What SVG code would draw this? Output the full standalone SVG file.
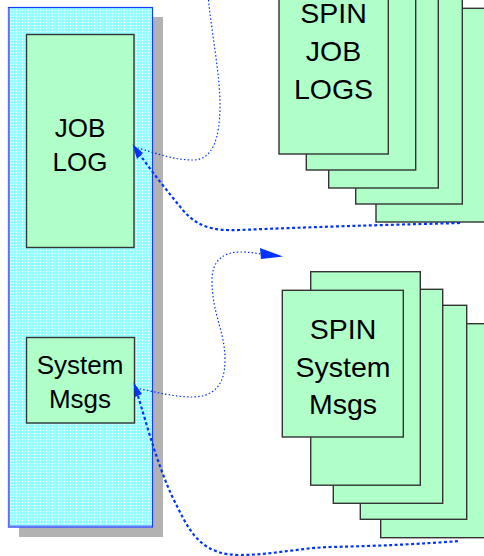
<svg xmlns="http://www.w3.org/2000/svg" width="484" height="556" viewBox="0 0 484 556">
<style>
.b{fill:#b0ffc8;stroke:#333;stroke-width:1.4}
text{font-family:"Liberation Sans",Arial,sans-serif;fill:#000;text-anchor:middle}
.s{font-size:26px}
.l{font-size:28.5px}
.thin{fill:none;stroke:#0033ff;stroke-width:1.2;stroke-dasharray:1.5 2.2}
.thick{fill:none;stroke:#0033ff;stroke-width:2.2;stroke-dasharray:3 2.5}
.head{fill:#0033ff}
</style>
<defs>
<pattern id="dots" width="3" height="3" patternUnits="userSpaceOnUse">
<rect width="3" height="3" fill="#8cffff"/>
<rect x="0.8" y="0.8" width="1.4" height="1.4" fill="#ffffff"/>
</pattern>
</defs>
<g id="panel">
<rect x="19" y="17" width="144" height="520" fill="#b2b2b2"/>
<rect x="8.5" y="7.5" width="144" height="519.5" fill="url(#dots)" stroke="#1a3cff" stroke-width="1.2"/>
<path d="M9 8V526.500H152" fill="none" stroke="#6677ff" stroke-width="1.8"/>
</g>
<g id="job-log">
<rect class="b" x="26.5" y="34.5" width="107.5" height="213"/>
<text class="s" x="80" y="137">JOB</text>
<text class="s" x="80" y="171">LOG</text>
</g>
<g id="system-msgs">
<rect class="b" x="26.5" y="337.5" width="108" height="85.5"/>
<text class="s" x="80" y="374">System</text>
<text class="s" x="80" y="407.5">Msgs</text>
</g>
<g id="spin-job-logs">
<rect class="b" x="376" y="8.3" width="120" height="213.7"/>
<rect class="b" x="355.7" y="-20" width="106.6" height="224"/>
<rect class="b" x="328.7" y="-20" width="109.6" height="208"/>
<rect class="b" x="306.3" y="-20" width="109.4" height="190"/>
<rect class="b" x="279" y="-20" width="109.3" height="174"/>
<text class="l" x="333.5" y="22.7">SPIN</text>
<text class="l" x="333.5" y="60.7">JOB</text>
<text class="l" x="333.5" y="98.7">LOGS</text>
</g>
<g id="spin-system-msgs">
<rect class="b" x="380.7" y="323.7" width="120" height="214"/>
<rect class="b" x="360.3" y="305.3" width="106.4" height="214"/>
<rect class="b" x="333.3" y="289.3" width="109.4" height="214"/>
<rect class="b" x="310.7" y="271.7" width="109.6" height="213.5"/>
<rect class="b" x="282.3" y="290.3" width="121" height="146.7"/>
<text class="l" x="343" y="338.7">SPIN</text>
<text class="l" x="343" y="376.7">System</text>
<text class="l" x="343" y="414">Msgs</text>
</g>
<g id="connectors">
<path class="thin" d="M208.500 0C212 35 220 75 220 105C220 140 212 160 193 160C175 160 158 154 138 148"/>
<path class="thick" d="M460 223C380 225 310 227 240 230C212 231 197 227 182 209C168 192 152 172 138 152"/>
<path class="thin" d="M136 388C155 392 175 397 192 397C214 397 225 385 225 360C225 330 212 315 212 280C212 262 222 252 240 252C248 252 255 253 262 254"/>
<path class="thick" d="M138 396C147 425 160 475 178 508C192 537 205 555 240 555C270 555 300 548 330 547C380 546 420 544 460 541"/>
<polygon class="head" points="132.500,144 143,153 137,159"/>
<polygon class="head" points="133.500,382 142,394 135,397"/>
<polygon class="head" points="283,256.500 260,248 261,259"/>
</g>
</svg>
